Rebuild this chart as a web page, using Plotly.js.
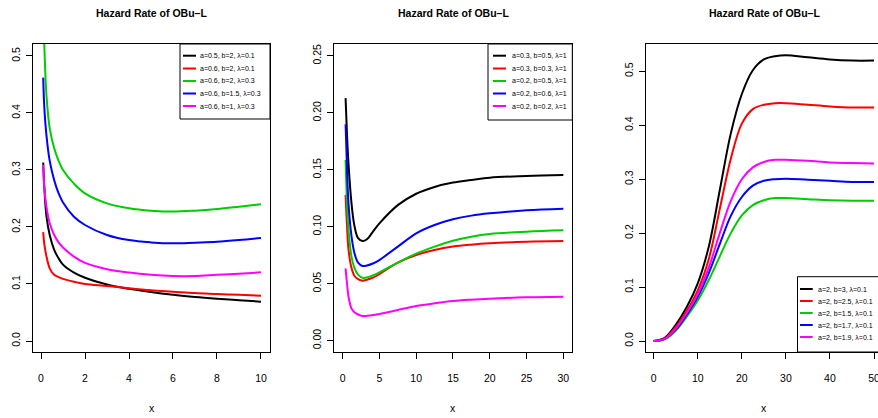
<!DOCTYPE html>
<html><head><meta charset="utf-8">
<script src="https://cdn.plot.ly/plotly-3.0.1.min.js"></script>
<style>html,body{margin:0;padding:0;overflow:hidden;background:#fff}#c{width:884px;height:418px}</style>
</head><body><div id="c"></div>
<script>
// ---------- data ----------
const colors = ["#000000", "#FF0000", "#00CD00", "#0000FF", "#FF00FF"];
const titleText = "Hazard Rate of OBu–L";

// Panel 1
const x1 = [0.1, 0.15, 0.25, 0.4, 0.6, 0.8, 1, 1.5, 2, 3, 4, 5, 6, 7, 8, 9, 10];
const p1Black   = [0.313, 0.270, 0.218, 0.185, 0.160, 0.145, 0.134, 0.120, 0.111, 0.099, 0.0915, 0.086, 0.081, 0.077, 0.074, 0.0715, 0.069];
const p1Red     = [0.191, 0.170, 0.148, 0.127, 0.116, 0.112, 0.109, 0.104, 0.100, 0.0965, 0.0925, 0.089, 0.0865, 0.084, 0.0825, 0.081, 0.0795];
const p1Green   = [0.620, 0.520, 0.430, 0.372, 0.338, 0.316, 0.300, 0.276, 0.259, 0.2415, 0.233, 0.2287, 0.227, 0.2287, 0.2316, 0.2357, 0.240];
const p1Blue    = [0.462, 0.410, 0.360, 0.315, 0.282, 0.259, 0.243, 0.218, 0.2035, 0.186, 0.177, 0.173, 0.1713, 0.1725, 0.174, 0.177, 0.1807];
const p1Magenta = [0.309, 0.270, 0.235, 0.206, 0.186, 0.173, 0.164, 0.148, 0.137, 0.126, 0.120, 0.116, 0.114, 0.114, 0.116, 0.118, 0.1205];
const p1Labels = ["a=0.5, b=2, λ=0.1", "a=0.6, b=2, λ=0.1", "a=0.6, b=2, λ=0.3", "a=0.6, b=1.5, λ=0.3", "a=0.6, b=1, λ=0.3"];

// Panel 2
const x2 = [0.4, 0.6, 0.8, 1.2, 1.6, 2.1, 2.7, 3.3, 4.2, 5, 7.5, 10, 12.5, 15, 17.5, 20, 25, 30];
const p2Black   = [0.213, 0.180, 0.155, 0.121, 0.101, 0.090, 0.0875, 0.089, 0.0965, 0.103, 0.119, 0.129, 0.135, 0.1388, 0.141, 0.1431, 0.1446, 0.1455];
const p2Red     = [0.128, 0.100, 0.080, 0.064, 0.057, 0.054, 0.0527, 0.0535, 0.0555, 0.0585, 0.0685, 0.0752, 0.0796, 0.0826, 0.0843, 0.0855, 0.0869, 0.0875];
const p2Green   = [0.1587, 0.120, 0.097, 0.074, 0.064, 0.058, 0.0552, 0.0555, 0.0575, 0.060, 0.0685, 0.0765, 0.0826, 0.0878, 0.0913, 0.0937, 0.0957, 0.0969];
const p2Blue    = [0.190, 0.150, 0.120, 0.092, 0.077, 0.0685, 0.0656, 0.066, 0.068, 0.0708, 0.0826, 0.0943, 0.1016, 0.1066, 0.1098, 0.1118, 0.1145, 0.1159];
const p2Magenta = [0.0635, 0.050, 0.0386, 0.0284, 0.025, 0.023, 0.0217, 0.0218, 0.0225, 0.0235, 0.0269, 0.0304, 0.0328, 0.0348, 0.036, 0.0369, 0.0381, 0.0386];
const p2Labels = ["a=0.3, b=0.5, λ=1", "a=0.3, b=0.3, λ=1", "a=0.2, b=0.5, λ=1", "a=0.2, b=0.6, λ=1", "a=0.2, b=0.2, λ=1"];

// Panel 3
const x3 = [0, 2.5, 5, 7.5, 10, 12.5, 15, 17.5, 20, 22.5, 25, 27.5, 30, 35, 40, 45, 50];
const p3Black   = [0, 0.006, 0.030, 0.063, 0.107, 0.175, 0.280, 0.385, 0.458, 0.502, 0.522, 0.528, 0.530, 0.526, 0.522, 0.520, 0.520];
const p3Red     = [0, 0.005, 0.026, 0.056, 0.094, 0.152, 0.245, 0.338, 0.403, 0.430, 0.438, 0.441, 0.441, 0.438, 0.435, 0.433, 0.433];
const p3Green   = [0, 0.003, 0.019, 0.045, 0.075, 0.113, 0.157, 0.200, 0.233, 0.252, 0.261, 0.265, 0.265, 0.263, 0.261, 0.260, 0.260];
const p3Blue    = [0, 0.004, 0.021, 0.049, 0.082, 0.126, 0.180, 0.232, 0.267, 0.288, 0.297, 0.300, 0.301, 0.299, 0.297, 0.295, 0.295];
const p3Magenta = [0, 0.004, 0.023, 0.052, 0.087, 0.136, 0.200, 0.260, 0.300, 0.322, 0.332, 0.336, 0.336, 0.334, 0.331, 0.330, 0.329];
const p3Labels = ["a=2, b=3, λ=0.1", "a=2, b=2.5, λ=0.1", "a=2, b=1.5, λ=0.1", "a=2, b=1.7, λ=0.1", "a=2, b=1.9, λ=0.1"];

// ---------- layout ----------
const W = 884, H = 418;
const FONT = "'Liberation Sans', Arial, sans-serif";
const px = v => v / W;
const py = v => 1 - v / H;
const boxTop = 44, boxBot = 352;

const panels = [
  {x: x1, ys: [p1Black, p1Red, p1Green, p1Blue, p1Magenta], labels: p1Labels,
   left: 33, right: 270, xr: [-0.364, 10.41], yr: [-0.0193, 0.521], xt: 2, yt: 0.1, yf: ".1f",
   leg: {l: 180, r: 270, t: 44, b: 119, rows: [55.7, 68.5, 81, 93.5, 106], l0: 183, l1: 196, tx: 198}},
  {x: x2, ys: [p2Black, p2Red, p2Green, p2Blue, p2Magenta], labels: p2Labels,
   left: 334.3, right: 572.3, xr: [-1.133, 31.22], yr: [-0.00995, 0.2605], xt: 5, yt: 0.05, yf: ".2f",
   leg: {l: 488, r: 572.3, t: 44, b: 120, rows: [55.7, 68.5, 81, 93.5, 106], l0: 493, l1: 506, tx: 509.5}},
  {x: x3, ys: [p3Black, p3Red, p3Green, p3Blue, p3Magenta], labels: p3Labels,
   left: 645.7, right: 883, xr: [-1.82, 52.04], yr: [-0.0204, 0.5507], xt: 10, yt: 0.1, yf: ".1f",
   leg: {l: 797.5, r: 883, t: 276.7, b: 352, rows: [289, 301, 313, 325, 337], l0: 800, l1: 812.7, tx: 815.5}}
];

const data = [], shapes = [], annotations = [];
const layout = {
  width: W, height: H, margin: {l: 0, r: 0, t: 0, b: 0}, showlegend: false,
  paper_bgcolor: "#fff", plot_bgcolor: "#fff", font: {family: FONT, color: "#000", size: 10.5}
};

panels.forEach((p, i) => {
  const n = i === 0 ? "" : String(i + 1);
  const xa = "x" + n, ya = "y" + n;
  p.ys.forEach((y, k) => {
    data.push({type: "scatter", mode: "lines", x: p.x, y: y, xaxis: xa, yaxis: ya,
      line: {color: colors[k], width: 2, shape: "spline", smoothing: 1}, hoverinfo: "skip"});
  });
  const common = {showgrid: false, zeroline: false, showline: true, mirror: true, linecolor: "#000", linewidth: 1,
    ticks: "outside", ticklen: 6, tickcolor: "#000", tickwidth: 1, tickfont: {family: FONT, size: 10.5, color: "#000"}};
  layout["xaxis" + n] = Object.assign({}, common, {domain: [px(p.left), px(p.right)], range: p.xr,
    tick0: 0, dtick: p.xt, anchor: ya, ticklabelstandoff: 10});
  layout["yaxis" + n] = Object.assign({}, common, {domain: [py(boxBot), py(boxTop)], range: p.yr,
    tick0: 0, dtick: p.yt, tickformat: p.yf, tickangle: -90, anchor: xa, ticklabelstandoff: 2});
  const cx = (p.left + Math.min(p.right, 883)) / 2;
  annotations.push({xref: "paper", yref: "paper", x: px(cx), y: py(13), text: "<b>" + titleText + "</b>",
    showarrow: false, xanchor: "center", yanchor: "middle", font: {family: FONT, size: 10.5, color: "#000"}});
  annotations.push({xref: "paper", yref: "paper", x: px(cx), y: py(408), text: "x",
    showarrow: false, xanchor: "center", yanchor: "middle", font: {family: FONT, size: 10.5, color: "#000"}});
  const L = p.leg;
  shapes.push({type: "rect", xref: "paper", yref: "paper", x0: px(L.l), x1: px(L.r), y0: py(L.b), y1: py(L.t),
    fillcolor: "#fff", line: {color: "#000", width: 1}, layer: "above"});
  p.labels.forEach((lab, k) => {
    shapes.push({type: "line", xref: "paper", yref: "paper", x0: px(L.l0), x1: px(L.l1), y0: py(L.rows[k]), y1: py(L.rows[k]),
      line: {color: colors[k], width: 2}, layer: "above"});
    annotations.push({xref: "paper", yref: "paper", x: px(L.tx), y: py(L.rows[k]), text: lab, showarrow: false,
      xanchor: "left", yanchor: "middle", font: {family: FONT, size: 7, color: "#000"}});
  });
});
layout.shapes = shapes;
layout.annotations = annotations;
Plotly.newPlot("c", data, layout, {staticPlot: true, displayModeBar: false});
</script></body></html>
